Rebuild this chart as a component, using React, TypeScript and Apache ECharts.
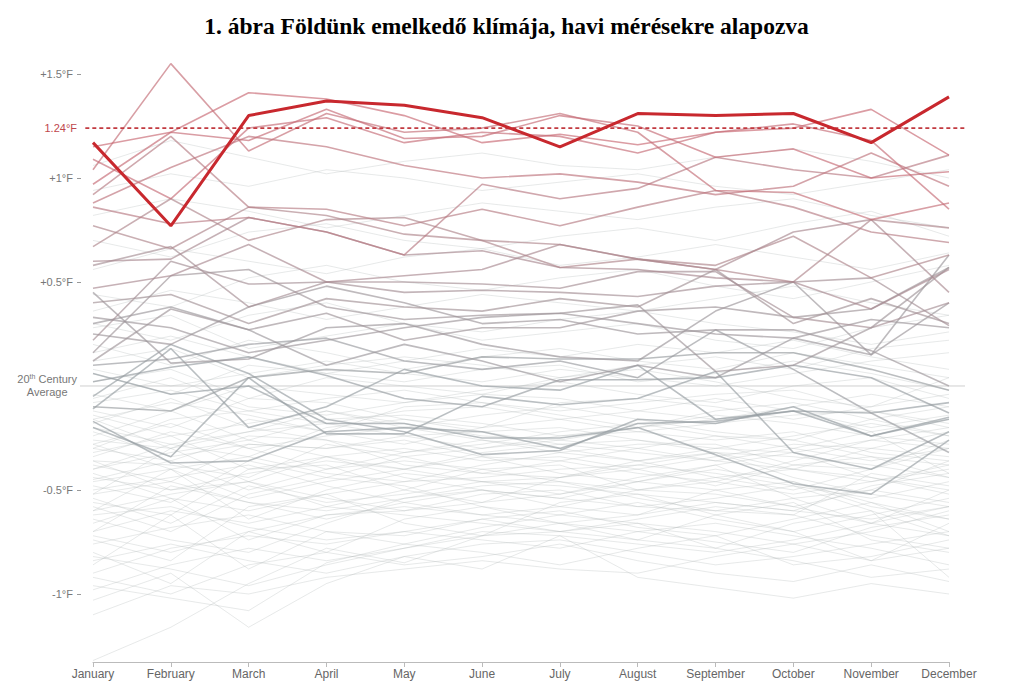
import React, { useEffect, useRef } from "react";
import * as echarts from "echarts";

const TITLE = "1. ábra Földünk emelkedő klímája, havi mérésekre alapozva";
const MONTHS = ["January", "February", "March", "April", "May", "June", "July", "August", "September", "October", "November", "December"];
const Y_TICKS = [-1, -0.5, 0.5, 1, 1.5];
const Y_LABELS = [-1, -0.5, 0, 0.5, 1, 1.24, 1.5];
const ANNUAL_2014 = 1.24;
const YEAR_LABEL = "2014";

// 2014 monthly anomalies (°F vs 20th century average)
const Y2014 = [1.17, 0.77, 1.30, 1.37, 1.35, 1.29, 1.15, 1.31, 1.30, 1.31, 1.17, 1.39];

// recent years, drawn emphasised
const RECENT = [
  [1.04, 1.55, 1.13, 1.31, 1.22, 1.24, 1.31, 1.22, 0.94, 0.93, 0.80, 0.88],
  [1.15, 1.22, 1.41, 1.38, 1.30, 1.17, 1.21, 1.16, 1.22, 1.24, 1.33, 1.11],
  [0.97, 1.22, 1.18, 1.33, 1.19, 1.20, 1.30, 1.25, 1.10, 1.14, 1.00, 1.03],
  [1.09, 0.90, 1.24, 1.29, 1.17, 1.22, 1.20, 1.12, 1.22, 1.26, 1.18, 0.85],
  [0.92, 1.20, 0.86, 0.85, 0.77, 0.85, 0.77, 0.86, 0.94, 0.86, 0.74, 0.69],
  [0.86, 0.78, 0.81, 0.74, 0.63, 0.97, 0.90, 0.95, 1.10, 1.04, 1.00, 1.11],
  [0.77, 0.66, 0.86, 0.82, 0.73, 0.70, 0.57, 0.61, 0.56, 0.50, 0.80, 0.76],
  [0.67, 0.90, 0.70, 0.80, 0.81, 0.70, 0.68, 0.61, 0.58, 0.72, 0.52, 0.63],
  [0.60, 0.61, 0.81, 0.74, 0.63, 0.65, 0.57, 0.56, 0.52, 0.50, 0.37, 0.56],
  [0.58, 0.67, 0.38, 0.50, 0.50, 0.49, 0.47, 0.55, 0.55, 0.33, 0.28, 0.40],
  [0.47, 0.53, 0.68, 0.50, 0.53, 0.56, 0.68, 0.61, 0.56, 0.74, 0.80, 0.45],
  [0.88, 1.05, 1.20, 1.15, 1.06, 1.00, 1.02, 0.98, 0.92, 0.96, 1.12, 0.96],
  [0.22, 0.60, 0.49, 0.50, 0.45, 0.46, 0.45, 0.43, 0.48, 0.50, 0.52, 0.29],
  [0.12, 0.37, 0.27, 0.35, 0.22, 0.28, 0.28, 0.36, 0.38, 0.33, 0.37, 0.57],
  [0.25, 0.20, 0.38, 0.48, 0.40, 0.30, 0.32, 0.25, 0.27, 0.27, 0.17, 0.00],
  [0.33, 0.28, 0.16, 0.22, 0.28, 0.33, 0.35, 0.30, 0.25, 0.23, 0.32, 0.28],
  [0.45, 0.11, 0.13, 0.28, 0.30, 0.20, 0.14, 0.12, 0.36, 0.50, 0.15, 0.40],
  [0.16, 0.53, 0.56, 0.38, 0.32, 0.34, 0.35, 0.39, 0.07, 0.10, 0.28, 0.57],
  [0.30, 0.38, 0.27, 0.10, 0.20, 0.12, 0.02, 0.10, 0.04, 0.23, 0.15, 0.63],
  [0.40, 0.44, 0.30, 0.42, 0.38, 0.36, 0.42, 0.38, 0.56, 0.30, 0.42, 0.30],
  [-0.10, -0.12, 0.04, 0.08, 0.06, 0.14, 0.13, 0.13, 0.16, 0.16, 0.08, -0.02],
  [-0.17, -0.37, -0.36, -0.22, -0.20, -0.22, -0.30, -0.18, -0.17, -0.12, -0.13, -0.08],
  [-0.11, 0.18, -0.20, -0.10, 0.08, 0.00, -0.02, 0.10, -0.16, -0.12, -0.24, -0.16],
  [-0.20, -0.34, 0.04, -0.23, -0.23, -0.05, -0.09, -0.06, 0.07, -0.32, -0.40, -0.22],
  [0.06, -0.04, 0.00, -0.18, -0.18, -0.25, -0.25, -0.20, -0.33, -0.47, -0.52, -0.26],
  [0.10, 0.13, 0.20, 0.23, 0.12, 0.08, 0.12, 0.04, 0.27, 0.08, -0.13, -0.32],
  [0.02, 0.09, 0.14, 0.05, -0.06, -0.10, 0.03, 0.03, 0.04, 0.10, 0.04, -0.13],
  [-0.05, 0.20, 0.06, -0.16, -0.22, -0.33, -0.31, -0.16, -0.18, -0.10, -0.24, -0.15],
];

// earlier years, drawn faint
const EARLIER = [
  [-1.32, -1.16, -0.95, -0.78, -0.85, -0.72, -0.66, -0.70, -0.75, -0.80, -0.68, -0.62],
  [-1.03, -0.90, -1.16, -0.95, -0.82, -0.88, -0.72, -0.92, -0.97, -1.02, -0.95, -1.00],
  [-0.96, -1.02, -1.08, -0.85, -0.76, -0.80, -0.86, -0.78, -0.72, -0.86, -0.82, -0.74],
  [-0.86, -0.62, -0.88, -0.70, -0.72, -0.64, -0.70, -0.66, -0.78, -0.66, -0.60, -0.92],
  [-0.80, -0.95, -0.70, -0.80, -0.64, -0.58, -0.66, -0.74, -0.62, -0.56, -0.74, -0.80],
  [-0.74, -0.84, -0.58, -0.52, -0.66, -0.72, -0.56, -0.52, -0.62, -0.70, -0.84, -0.66],
  [-0.70, -0.48, -0.56, -0.64, -0.56, -0.50, -0.58, -0.62, -0.50, -0.46, -0.56, -0.70],
  [-0.64, -0.74, -0.80, -0.66, -0.54, -0.48, -0.46, -0.54, -0.60, -0.62, -0.42, -0.48],
  [-0.60, -0.40, -0.64, -0.50, -0.42, -0.46, -0.52, -0.44, -0.38, -0.54, -0.66, -0.50],
  [-0.56, -0.62, -0.40, -0.38, -0.50, -0.56, -0.44, -0.40, -0.48, -0.38, -0.34, -0.44],
  [-0.52, -0.30, -0.46, -0.58, -0.50, -0.40, -0.38, -0.50, -0.52, -0.58, -0.50, -0.36],
  [-0.48, -0.56, -0.36, -0.44, -0.34, -0.42, -0.44, -0.36, -0.32, -0.44, -0.52, -0.58],
  [-0.46, -0.40, -0.54, -0.46, -0.40, -0.34, -0.36, -0.42, -0.46, -0.36, -0.26, -0.30],
  [-0.44, -0.50, -0.46, -0.34, -0.44, -0.50, -0.54, -0.46, -0.40, -0.46, -0.58, -0.64],
  [-0.40, -0.28, -0.34, -0.42, -0.46, -0.38, -0.32, -0.36, -0.44, -0.50, -0.40, -0.30],
  [-0.38, -0.46, -0.28, -0.30, -0.26, -0.34, -0.42, -0.46, -0.38, -0.32, -0.44, -0.50],
  [-0.36, -0.38, -0.44, -0.28, -0.34, -0.30, -0.26, -0.30, -0.36, -0.30, -0.22, -0.42],
  [-0.34, -0.22, -0.30, -0.40, -0.32, -0.26, -0.32, -0.28, -0.28, -0.38, -0.40, -0.26],
  [-0.30, -0.36, -0.24, -0.26, -0.38, -0.42, -0.36, -0.30, -0.24, -0.26, -0.34, -0.38],
  [-0.28, -0.18, -0.30, -0.24, -0.20, -0.26, -0.30, -0.36, -0.30, -0.24, -0.18, -0.24],
  [-0.26, -0.30, -0.16, -0.22, -0.28, -0.20, -0.16, -0.22, -0.26, -0.22, -0.32, -0.36],
  [-0.24, -0.12, -0.26, -0.16, -0.14, -0.18, -0.24, -0.20, -0.16, -0.12, -0.22, -0.16],
  [-0.20, -0.28, -0.22, -0.12, -0.20, -0.14, -0.10, -0.16, -0.22, -0.26, -0.16, -0.10],
  [-0.16, -0.08, -0.14, -0.22, -0.10, -0.08, -0.14, -0.20, -0.12, -0.08, -0.16, -0.24],
  [-0.12, -0.20, -0.06, -0.08, -0.16, -0.20, -0.08, -0.06, -0.10, -0.16, -0.10, -0.04],
  [-0.08, -0.02, -0.12, -0.06, -0.02, -0.08, -0.12, -0.08, -0.04, -0.02, -0.12, -0.18],
  [-0.04, -0.12, 0.00, -0.04, -0.08, -0.02, 0.02, -0.04, -0.08, 0.00, 0.04, -0.06],
  [0.02, 0.08, -0.06, 0.04, 0.00, -0.04, 0.04, 0.08, 0.02, -0.06, -0.10, 0.04],
  [0.06, -0.04, 0.10, 0.06, 0.02, 0.08, 0.10, 0.02, 0.06, 0.12, 0.06, -0.02],
  [0.12, 0.18, 0.04, 0.10, 0.14, 0.10, 0.04, 0.10, 0.14, 0.08, 0.18, 0.22],
  [0.20, 0.10, 0.22, 0.16, 0.08, 0.14, 0.18, 0.12, 0.08, 0.16, 0.10, 0.04],
  [0.28, 0.34, 0.18, 0.24, 0.30, 0.22, 0.26, 0.30, 0.22, 0.18, 0.28, 0.34],
  [-0.58, -0.70, -0.52, -0.44, -0.48, -0.58, -0.62, -0.56, -0.64, -0.70, -0.62, -0.54],
  [-0.66, -0.54, -0.74, -0.62, -0.60, -0.52, -0.50, -0.58, -0.54, -0.48, -0.60, -0.72],
  [-0.50, -0.44, -0.38, -0.48, -0.56, -0.62, -0.58, -0.50, -0.46, -0.52, -0.46, -0.40],
  [-0.42, -0.54, -0.60, -0.52, -0.46, -0.44, -0.40, -0.38, -0.42, -0.48, -0.54, -0.46],
  [-0.32, -0.24, -0.40, -0.34, -0.30, -0.36, -0.34, -0.40, -0.34, -0.28, -0.30, -0.34],
  [-0.76, -0.68, -0.62, -0.70, -0.76, -0.68, -0.62, -0.66, -0.70, -0.76, -0.70, -0.60],
  [-0.90, -0.78, -0.72, -0.76, -0.70, -0.74, -0.78, -0.70, -0.66, -0.72, -0.78, -0.86],
  [-0.82, -0.88, -0.96, -0.86, -0.78, -0.70, -0.72, -0.76, -0.80, -0.74, -0.66, -0.72],
  [-0.70, -0.60, -0.66, -0.58, -0.62, -0.66, -0.70, -0.64, -0.58, -0.62, -0.72, -0.78],
  [-0.54, -0.66, -0.48, -0.56, -0.52, -0.46, -0.48, -0.52, -0.56, -0.60, -0.48, -0.42],
  [-0.36, -0.50, -0.42, -0.36, -0.40, -0.46, -0.44, -0.38, -0.32, -0.34, -0.38, -0.44],
  [-0.22, -0.34, -0.28, -0.30, -0.24, -0.22, -0.20, -0.26, -0.30, -0.32, -0.26, -0.20],
  [-0.14, -0.24, -0.18, -0.12, -0.18, -0.24, -0.26, -0.20, -0.14, -0.18, -0.24, -0.28],
  [-0.06, 0.04, -0.10, -0.14, -0.08, -0.04, -0.06, -0.12, -0.16, -0.10, -0.04, -0.10],
  [0.08, 0.00, 0.06, 0.12, 0.06, 0.02, 0.08, 0.04, 0.00, 0.06, 0.12, 0.16],
  [0.16, 0.24, 0.14, 0.06, 0.12, 0.18, 0.14, 0.20, 0.16, 0.22, 0.14, 0.08],
  [-0.62, -0.58, -0.68, -0.74, -0.70, -0.64, -0.60, -0.68, -0.72, -0.64, -0.56, -0.64],
  [-0.45, -0.36, -0.50, -0.40, -0.36, -0.40, -0.46, -0.50, -0.44, -0.40, -0.44, -0.52],
  [-0.84, -0.76, -0.84, -0.90, -0.82, -0.76, -0.74, -0.80, -0.86, -0.82, -0.76, -0.70],
  [-0.92, -1.00, -0.86, -0.80, -0.86, -0.82, -0.76, -0.84, -0.90, -0.94, -0.86, -0.94],
  [-1.10, -0.96, -1.00, -0.92, -0.88, -0.84, -0.88, -0.90, -0.82, -0.76, -0.84, -0.78],
  [-0.98, -0.86, -0.78, -0.84, -0.78, -0.72, -0.70, -0.74, -0.78, -0.84, -0.92, -0.88],
  [0.36, 0.46, 0.40, 0.32, 0.38, 0.44, 0.40, 0.36, 0.42, 0.48, 0.40, 0.34],
  [0.44, 0.38, 0.52, 0.58, 0.50, 0.46, 0.52, 0.56, 0.48, 0.42, 0.50, 0.58],
  [0.56, 0.66, 0.60, 0.54, 0.62, 0.66, 0.58, 0.62, 0.68, 0.62, 0.56, 0.64],
  [0.70, 0.62, 0.74, 0.78, 0.70, 0.66, 0.72, 0.76, 0.70, 0.78, 0.84, 0.72],
  [0.82, 0.90, 0.84, 0.76, 0.82, 0.88, 0.84, 0.80, 0.86, 0.90, 0.82, 0.76],
  [0.94, 1.02, 0.96, 1.04, 1.00, 0.94, 0.98, 1.02, 0.96, 0.92, 0.98, 1.04],
  [1.06, 1.18, 1.10, 1.02, 1.08, 1.12, 1.06, 1.04, 1.10, 1.14, 1.08, 1.00],
  [0.30, 0.22, 0.34, 0.40, 0.30, 0.26, 0.32, 0.36, 0.30, 0.26, 0.20, 0.26],
  [-0.18, -0.06, -0.20, -0.26, -0.32, -0.28, -0.22, -0.18, -0.24, -0.30, -0.36, -0.30],
  [-0.28, -0.40, -0.34, -0.20, -0.16, -0.22, -0.28, -0.32, -0.36, -0.40, -0.30, -0.22],
  [-0.40, -0.32, -0.26, -0.34, -0.40, -0.32, -0.28, -0.26, -0.32, -0.40, -0.46, -0.38],
  [-0.52, -0.46, -0.56, -0.60, -0.54, -0.50, -0.54, -0.58, -0.60, -0.54, -0.50, -0.56],
  [-0.60, -0.52, -0.46, -0.54, -0.60, -0.56, -0.52, -0.46, -0.50, -0.58, -0.66, -0.58],
  [-0.72, -0.80, -0.70, -0.62, -0.58, -0.62, -0.66, -0.62, -0.56, -0.60, -0.64, -0.58],
  [-0.16, -0.30, -0.22, -0.18, -0.12, -0.10, -0.16, -0.12, -0.06, -0.12, -0.20, -0.14],
  [-0.30, -0.16, -0.12, -0.18, -0.24, -0.30, -0.24, -0.22, -0.18, -0.14, -0.12, -0.20],
];

const Y_MIN = -1.327;
const Y_MAX = 1.6;
const SANS = "'Liberation Sans', Arial, sans-serif";

function mean(a: number[]) {
  return a.reduce((s, v) => s + v, 0) / a.length;
}

function recentColor(vals: number[]) {
  const t0 = Math.max(0, Math.min(1, (mean(vals) + 0.1) / 1.3));
  const t = Math.pow(t0, 1.5);
  const r = Math.round(150 + (200 - 150) * t);
  const g = Math.round(158 + (105 - 158) * t);
  const b = Math.round(162 + (115 - 162) * t);
  return `rgba(${r},${g},${b},0.66)`;
}

function buildOption() {
  const earlier = EARLIER.map((d) => ({
    type: "line",
    data: d,
    symbol: "none",
    silent: true,
    lineStyle: { color: "rgba(180,186,188,0.32)", width: 1 },
  }));
  const recent = [...RECENT]
    .sort((a, b) => mean(a) - mean(b))
    .map((d) => ({
      type: "line",
      data: d,
      symbol: "none",
      silent: true,
      lineStyle: { color: recentColor(d), width: 1.6 },
    }));

  const fmtLabel = (v: number) => {
    if (Math.abs(v) < 1e-9) return "{a|20}{s|th}{a| Century}\n{c|Average}";
    if (Math.abs(v - ANNUAL_2014) < 1e-9) return `{r|${v}°F}`;
    const sign = v > 0 ? "+" : "";
    return `{n|${sign}${v}°F}`;
  };

  return {
    animation: false,
    backgroundColor: "#ffffff",
    title: {
      text: TITLE,
      left: "center",
      top: 9,
      textStyle: {
        fontFamily: "'Liberation Serif', 'Times New Roman', serif",
        fontWeight: "bold",
        fontSize: 23.5,
        color: "#000",
      },
    },
    grid: [
      { left: 93, right: 64, top: 53.2, bottom: 20 },
      { left: 80, right: 48, top: 53.2, bottom: 20 },
    ],
    xAxis: [
      {
        type: "category",
        gridIndex: 0,
        data: MONTHS,
        boundaryGap: false,
        axisLine: { onZero: false, lineStyle: { color: "#bbbbbb", width: 1 } },
        axisTick: { show: true, length: 5, lineStyle: { color: "#bbbbbb" } },
        axisLabel: { color: "#666", fontSize: 12, fontFamily: SANS, margin: 6 },
        splitLine: { show: false },
      },
      { type: "value", gridIndex: 1, min: 0, max: 1, show: false },
    ],
    yAxis: [
      {
        type: "value",
        gridIndex: 0,
        min: Y_MIN,
        max: Y_MAX,
        offset: 12,
        axisLine: { show: false },
        splitLine: { show: false },
        axisTick: {
          show: true,
          length: 4,
          customValues: Y_TICKS,
          lineStyle: { color: "#999" },
        },
        axisLabel: {
          customValues: Y_LABELS,
          margin: 4,
          formatter: fmtLabel,
          fontFamily: SANS,
          fontSize: 11,
          color: "#777",
          rich: {
            n: { fontFamily: SANS, fontSize: 11, color: "#777", padding: [0, 4, 0, 0] },
            r: { fontFamily: SANS, fontSize: 11, color: "#c0474c" },
            a: { fontFamily: SANS, fontSize: 11, color: "#777", lineHeight: 13 },
            s: { fontFamily: SANS, fontSize: 7, color: "#777", verticalAlign: "top", lineHeight: 13 },
            c: { fontFamily: SANS, fontSize: 11, color: "#777", align: "center", lineHeight: 13 },
          },
        },
      },
      { type: "value", gridIndex: 1, min: Y_MIN, max: Y_MAX, show: false },
    ],
    series: [
      {
        type: "line",
        xAxisIndex: 1,
        yAxisIndex: 1,
        data: [[0, 0], [1, 0]],
        symbol: "none",
        silent: true,
        lineStyle: { color: "#cfcfcf", width: 1 },
      },
      ...earlier,
      ...recent,
      {
        type: "line",
        xAxisIndex: 1,
        yAxisIndex: 1,
        data: [
          [0.006, ANNUAL_2014],
          {
            value: [1, ANNUAL_2014],
            label: {
              show: true,
              position: "right",
              distance: 18,
              formatter: YEAR_LABEL,
              color: "#b0555a",
              fontSize: 12,
              fontFamily: SANS,
            },
          },
        ],
        symbol: "none",
        silent: true,
        lineStyle: { color: "#c23a40", width: 1.8, type: [4, 3] },
      },
      {
        type: "line",
        data: Y2014,
        symbol: "none",
        silent: true,
        lineStyle: { color: "#c8282e", width: 3 },
      },
    ],
  };
}

export default function App() {
  const ref = useRef<HTMLDivElement>(null);
  useEffect(() => {
    if (!ref.current) return;
    const chart = echarts.init(ref.current, null, { renderer: "svg" });
    chart.setOption(buildOption() as any);
    return () => chart.dispose();
  }, []);
  return (
    <div
      ref={ref}
      style={{ position: "fixed", left: 0, top: 0, width: 1013, height: 682, background: "#fff" }}
    />
  );
}
